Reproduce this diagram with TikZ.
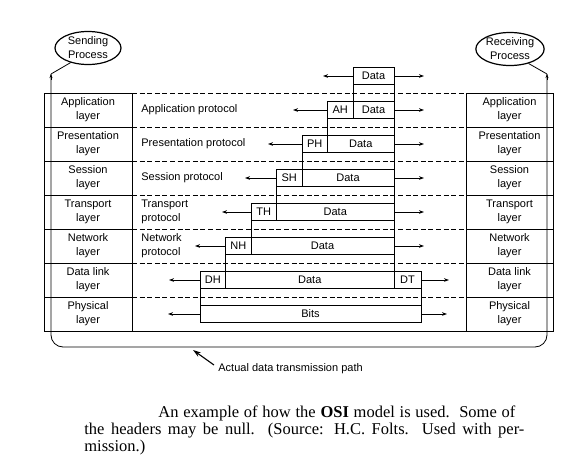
\documentclass[tikz,border=0pt]{standalone}
\usepackage{fontspec}
\setmainfont{Liberation Serif}
\setsansfont{Liberation Sans}
\usetikzlibrary{arrows.meta,shapes.geometric}

\begin{document}
\begin{tikzpicture}[x=1pt,y=-1pt,line width=0.8pt,
  lbl/.style={font=\sffamily\fontsize{11}{14}\selectfont,inner sep=0pt},
  cell/.style={lbl,draw,align=center,minimum height=34pt,outer sep=0pt},
  proc/.style={lbl,draw,ellipse,align=center,minimum width=66pt,minimum height=33pt,line width=1.2pt,inner sep=0pt},
  pkt/.style={lbl,draw,anchor=west,minimum height=17pt,outer sep=0pt},
  sep/.style={dash pattern=on 5pt off 2.6pt},
  arr/.style={-{Stealth[length=5pt,width=3.6pt]}},
  captext/.style={font=\fontsize{16.5}{18}\selectfont,inner sep=0pt,anchor=base west}]

\useasboundingbox (0,0) rectangle (565,472);

% end processes
\node[proc] (send) at (88,48) {Sending\\Process};
\node[proc] (recv) at (510,49) {Receiving\\Process};

% layer stacks on both hosts
\foreach \i/\name in {1/Application,2/Presentation,3/Session,4/Transport,5/Network,6/Data link,7/Physical}{
  \node[cell,minimum width=88pt] (sl\i) at (88,{76+34*\i}) {\name\\layer};
  \node[cell,minimum width=87pt] (rl\i) at (509.5,{76+34*\i}) {\name\\layer};
}

% peer protocol separators
\foreach \i in {1,...,7}{
  \draw[sep] (sl\i.north east) -- (rl\i.north west);
}
\draw (sl7.south east) -- (rl7.south west);

% protocol names
\node[lbl,anchor=west] (pa) at (141,110) {Application protocol};
\node[lbl,anchor=west] (pp) at (141,144) {Presentation protocol};
\node[lbl,anchor=west] (ps) at (141,178) {Session protocol};
\node[lbl,anchor=west,align=left] (pt) at (141,212) {Transport\\protocol};
\node[lbl,anchor=west,align=left] (pn) at (141,246) {Network\\protocol};

% path from sender down through the stack, across and up to the receiver
\coordinate (lt) at (51,74);
\coordinate (rt) at (547,74);
\coordinate (lb) at (51,347);
\coordinate (rb) at (547,347);
\draw (send.-140) -- (lt);
\draw (recv.-38) -- (rt);
\draw[rounded corners=12pt] (lt) -- (lb) -- (rb) -- (rt);
\draw[-{Stealth[length=4pt,width=3pt]}] (51,80) -- (lt);
\draw[-{Stealth[length=4pt,width=3pt]}] (547,80) -- (rt);

% data units with their headers
\node[pkt,minimum width=41pt] (d0) at (353,76) {Data};

\node[pkt,minimum width=25.5pt] (h1) at (327.5,110) {AH};
\node[pkt,minimum width=41pt] (d1) at (353,110) {Data};

\node[pkt,minimum width=25.5pt] (h2) at (302,144) {PH};
\node[pkt,minimum width=66.5pt] (d2) at (327.5,144) {Data};

\node[pkt,minimum width=25.5pt] (h3) at (276.5,178) {SH};
\node[pkt,minimum width=92pt] (d3) at (302,178) {Data};

\node[pkt,minimum width=25.5pt] (h4) at (251,212) {TH};
\node[pkt,minimum width=117.5pt] (d4) at (276.5,212) {Data};

\node[pkt,minimum width=25.5pt] (h5) at (225.5,246) {NH};
\node[pkt,minimum width=143pt] (d5) at (251,246) {Data};

\node[pkt,minimum width=25.5pt] (h6) at (200,280) {DH};
\node[pkt,minimum width=168.5pt] (d6) at (225.5,280) {Data};
\node[pkt,minimum width=27pt] (t6) at (394,280) {DT};

\node[pkt,minimum width=221pt] (d7) at (200,314) {Bits};

% links between successive data units
\draw (d0.south west) -- (d1.north west);
\draw (d0.south east) -- (d1.north east);
\draw (h1.south west) -- (d2.north west);
\draw (d1.south east) -- (d2.north east);
\draw (h2.south west) -- (d3.north west);
\draw (d2.south east) -- (d3.north east);
\draw (h3.south west) -- (d4.north west);
\draw (d3.south east) -- (d4.north east);
\draw (h4.south west) -- (d5.north west);
\draw (d4.south east) -- (d5.north east);
\draw (h5.south west) -- (d6.north west);
\draw (d5.south east) -- (d6.north east);
\draw (h6.south west) -- (d7.north west);
\draw (t6.south east) -- (d7.north east);

% exchange arrows
\coordinate (la0) at (323,76);
\coordinate (la1) at (293,110);
\coordinate (la2) at (268,144);
\coordinate (la3) at (245,178);
\coordinate (la4) at (222,212);
\coordinate (la5) at (195,246);
\coordinate (la6) at (169,280);
\coordinate (la7) at (168,314);
\foreach \i in {0,...,5}{
  \coordinate (ra\i) at (424,{76+34*\i});
}
\coordinate (ra6) at (449,280);
\coordinate (ra7) at (447,314);

\draw[arr] (d0.west) -- (la0);
\foreach \i in {1,...,6}{
  \draw[arr] (h\i.west) -- (la\i);
}
\draw[arr] (d7.west) -- (la7);
\foreach \i in {0,...,5}{
  \draw[arr] (d\i.east) -- (ra\i);
}
\draw[arr] (t6.east) -- (ra6);
\draw[arr] (d7.east) -- (ra7);

% physical path label
\node[lbl,anchor=west] (path) at (218,369) {Actual data transmission path};
\coordinate (pathtail) at (214,365);
\coordinate (pathtip) at (193,350);
\draw[line width=1.1pt,-{Stealth[length=8pt,width=5pt]}] (pathtail) -- (pathtip);

% caption
\node[captext] (c1) at (158,417) {\makebox[357pt][s]{An example of how the \textbf{OSI} model is used.\ \ Some of}};
\node[captext] (c2) at (84,434) {\makebox[440pt][s]{the headers may be null.\ \ (Source: H.C. Folts.\ \ Used with per-}};
\node[captext] (c3) at (84,451) {mission.)};
\end{tikzpicture}
\end{document}
